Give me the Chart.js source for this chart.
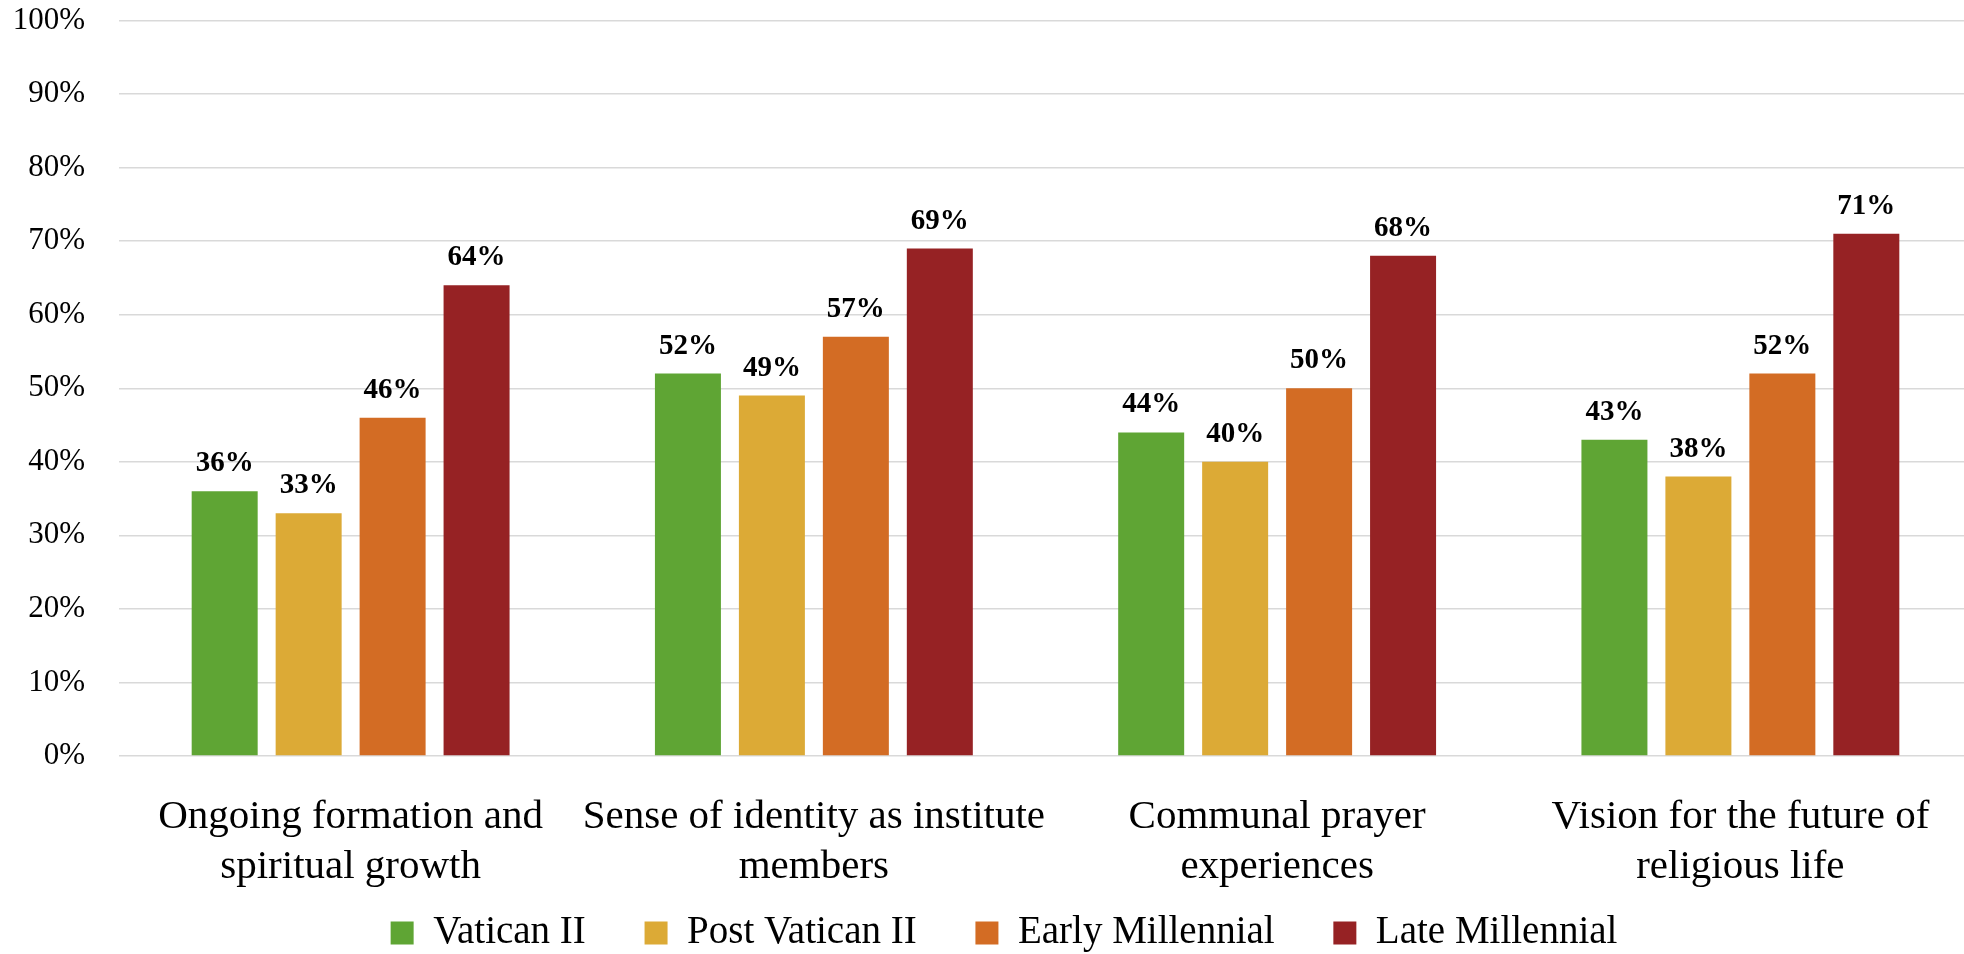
<!DOCTYPE html>
<html>
<head>
<meta charset="utf-8">
<script src="https://cdn.jsdelivr.net/npm/chart.js@4/dist/chart.umd.min.js"></script>
<style>
  html, body { margin: 0; padding: 0; background: #fff; overflow: hidden; }
  #wrap { width: 1972px; height: 954px; }
</style>
</head>
<body>
<div id="wrap"><canvas id="chart" width="1972" height="954"></canvas></div>
<script>
const categories = [
  ['Ongoing formation and', 'spiritual growth'],
  ['Sense of identity as institute', 'members'],
  ['Communal prayer', 'experiences'],
  ['Vision for the future of', 'religious life'],
];
const seriesNames = ['Vatican II', 'Post Vatican II', 'Early Millennial', 'Late Millennial'];
const vatican2 = [36, 52, 44, 43];
const postVatican2 = [33, 49, 40, 38];
const earlyMillennial = [46, 57, 50, 52];
const lateMillennial = [64, 69, 68, 71];
const yTicks = [0, 10, 20, 30, 40, 50, 60, 70, 80, 90, 100];

const colors = ['#5fa534', '#dcaa36', '#d36c24', '#962224'];
const FONT = "'Liberation Serif', 'Times New Roman', serif";

// draws the bold % labels above each bar
const valueLabels = {
  id: 'valueLabels',
  afterDatasetsDraw(chart) {
    const ctx = chart.ctx;
    ctx.save();
    ctx.font = "bold 29px " + FONT;
    ctx.fillStyle = '#000';
    ctx.textAlign = 'center';
    ctx.textBaseline = 'alphabetic';
    chart.data.datasets.forEach((ds, i) => {
      chart.getDatasetMeta(i).data.forEach((bar, j) => {
        ctx.fillText(ds.data[j] + '%', bar.x, bar.y - 20);
      });
    });
    ctx.restore();
  }
};

// legend in the original sits a bit right of the canvas centre
const legendShift = {
  id: 'legendShift',
  afterLayout(chart) {
    chart.legend.left += 18;
    chart.legend.right += 18;
  }
};

const seriesData = [vatican2, postVatican2, earlyMillennial, lateMillennial];

new Chart(document.getElementById('chart'), {
  type: 'bar',
  data: {
    labels: categories,
    datasets: seriesNames.map((name, i) => ({
      label: name,
      data: seriesData[i],
      backgroundColor: colors[i],
      borderWidth: 0,
      categoryPercentage: 0.725,
      barPercentage: 0.786,
    })),
  },
  options: {
    responsive: false,
    animation: false,
    layout: { padding: { top: 20.5, left: 0, right: 0, bottom: -8.5 } },
    plugins: {
      tooltip: { enabled: false },
      legend: {
        position: 'bottom',
        labels: {
          font: { family: FONT, size: 39 },
          color: '#000',
          boxWidth: 23,
          boxHeight: 23,
          padding: 10,
          generateLabels(chart) {
            const items = Chart.defaults.plugins.legend.labels.generateLabels(chart);
            items.forEach((it, i) => { if (i < items.length - 1) it.text += '     '; });
            return items;
          },
        },
      },
    },
    scales: {
      x: {
        grid: { display: false },
        border: { display: false },
        ticks: {
          font: { family: FONT, size: 41, lineHeight: 1.22 },
          color: '#000',
          padding: 28,
          maxRotation: 0,
          autoSkip: false,
        },
        afterFit(scale) { scale.height = 147.5; },
      },
      y: {
        min: 0,
        max: 100,
        afterBuildTicks(scale) { scale.ticks = yTicks.map(v => ({ value: v })); },
        grid: { color: '#d9d9d9', lineWidth: 1.5, drawTicks: true, tickLength: 34, tickColor: 'rgba(0,0,0,0)' },
        border: { display: false },
        ticks: {
          font: { family: FONT, size: 31 },
          color: '#000',
          padding: 0,
          callback: v => v + '%',
        },
        afterFit(scale) { scale.width = 119; },
      },
    },
  },
  plugins: [valueLabels, legendShift],
});
</script>
</body>
</html>
